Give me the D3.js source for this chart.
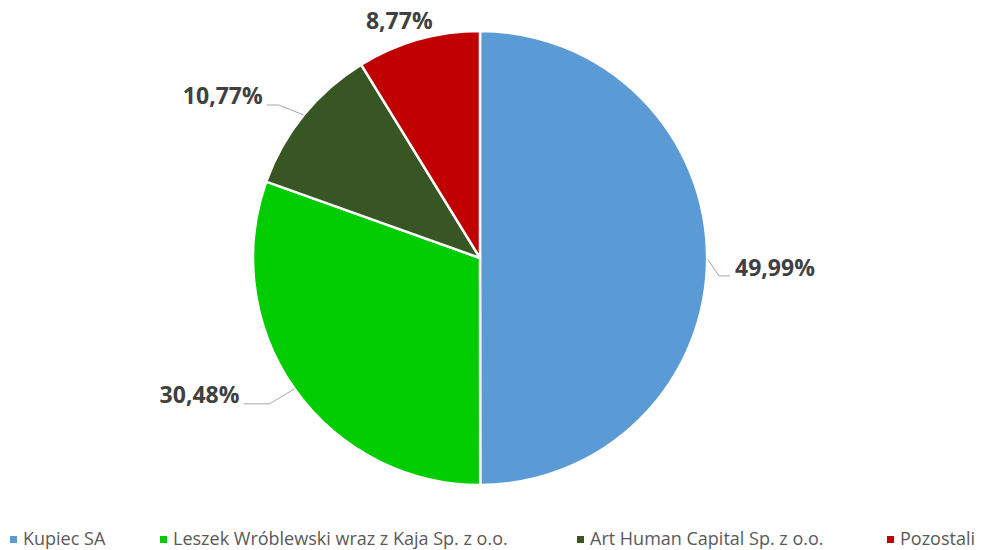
<!DOCTYPE html>
<html><head><meta charset="utf-8">
<script src="https://cdn.jsdelivr.net/npm/d3@7"></script>
<style>body{margin:0;background:#fff}svg{display:block}</style>
</head><body>
<svg id="c" width="981" height="550"></svg>
<script>
const categories = ["Kupiec SA", "Leszek Wróblewski wraz z Kaja Sp. z o.o.", "Art Human Capital Sp. z o.o.", "Pozostali"];
const shares = [49.99, 30.48, 10.77, 8.77];
const labels = ["49,99%", "30,48%", "10,77%", "8,77%"];
const colors = ["#5B9BD5", "#00CC00", "#375623", "#C00000"];

// layout
const W = 981, H = 550, cx = 480, cy = 258, R = 227;
const labelOffsets = [[28, 12, "start"], [-55, 8, "end"], [-41, -17, "end"], [-19, -17, "middle"]];
const leaders = [true, true, true, false];
const legendX = [10, 160, 577, 887];

const svg = d3.select("#c");
const g = svg.append("g").attr("transform", `translate(${cx},${cy})`);
const pie = d3.pie().sort(null).value(d => d);
const arcs = pie(shares);
const arc = d3.arc().innerRadius(0).outerRadius(R);
const color = d3.scaleOrdinal().domain(categories).range(colors);

g.selectAll("path.s").data(arcs).join("path")
  .attr("class", "s")
  .attr("d", arc)
  .attr("fill", (d, i) => color(categories[i]))
  .attr("stroke", "#fff").attr("stroke-width", 2.5).attr("stroke-linejoin", "round");

const edge = d3.arc().innerRadius(R).outerRadius(R);
arcs.forEach((d, i) => {
  const [ex, ey] = edge.centroid(d);
  const [dx, dy, anchor] = labelOffsets[i];
  const lx = ex + dx, ly = ey + dy;
  if (leaders[i]) {
    let pts;
    if (anchor === "start") pts = [[ex + 1, ey + 2], [ex + 12, ly + 6], [lx - 5, ly + 6]];
    else pts = [[ex, ey], [ex - 25, ly + 7], [lx + 4, ly + 7]];
    g.append("path").attr("d", d3.line()(pts)).attr("fill", "none")
      .attr("stroke", "#A6A6A6").attr("stroke-width", 1);
  }
  g.append("text").attr("x", lx).attr("y", ly).attr("text-anchor", anchor)
    .attr("dominant-baseline", "middle")
    .attr("font-family", "'Open Sans', sans-serif").attr("font-weight", "bold")
    .attr("font-size", 23).attr("fill", "#404040").text(labels[i]);
});

const leg = svg.append("g");
categories.forEach((c, i) => {
  leg.append("rect").attr("x", legendX[i]).attr("y", 536).attr("width", 7).attr("height", 7)
    .attr("fill", color(c));
  leg.append("text").attr("x", legendX[i] + 13).attr("y", 545)
    .attr("font-family", "'Open Sans', sans-serif").attr("font-size", 18)
    .attr("fill", "#595959").text(c);
});
</script>
</body></html>
